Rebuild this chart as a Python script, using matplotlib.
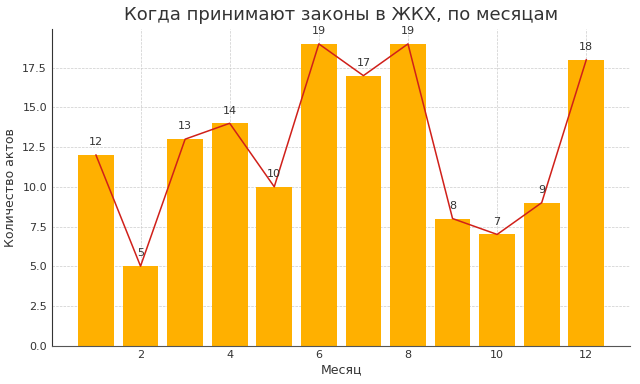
import matplotlib
matplotlib.use("Agg")
import matplotlib.pyplot as plt

# Data
months = [1, 2, 3, 4, 5, 6, 7, 8, 9, 10, 11, 12]
acts = [12, 5, 13, 14, 10, 19, 17, 19, 8, 7, 9, 18]

plt.rcParams['font.family'] = ['DejaVu Sans']

fig, ax = plt.subplots(figsize=(6.4, 3.84), dpi=100)

ax.bar(months, acts, color='#FFB000', width=0.8, zorder=2)
ax.plot(months, acts, color='#D0201A', linewidth=1.1, zorder=3)

# value labels above each point
for m, v in zip(months, acts):
    ax.annotate(str(v), (m, v), textcoords='offset points', xytext=(0, 7),
                ha='center', fontsize=8, color='#333333', zorder=4)

ax.set_title('Когда принимают законы в ЖКХ, по месяцам', fontsize=13, color='#333333')
ax.set_xlabel('Месяц', fontsize=9, color='#333333', labelpad=2)
ax.set_ylabel('Количество актов', fontsize=9, color='#333333')

ax.grid(True, linestyle='--', linewidth=0.5, color='#cccccc', zorder=0)
ax.set_axisbelow(True)
ax.spines['top'].set_visible(False)
ax.spines['right'].set_visible(False)
ax.spines['left'].set_color('#333333')
ax.spines['bottom'].set_color('#555555')
ax.tick_params(length=0, labelsize=8, colors='#333333')

fig.subplots_adjust(left=0.081, right=0.985, top=0.925, bottom=0.1)
fig.savefig('out.png', dpi=100)
